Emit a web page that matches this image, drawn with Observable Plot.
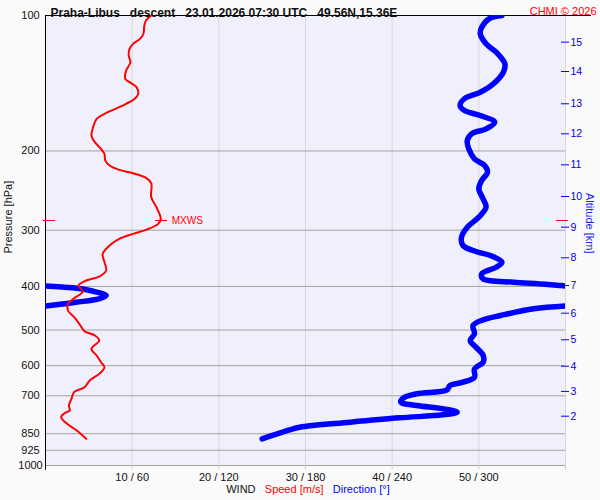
<!DOCTYPE html>
<html>
<head>
<meta charset="utf-8">
<script src="https://cdn.jsdelivr.net/npm/d3@7"></script>
<script src="https://cdn.jsdelivr.net/npm/@observablehq/plot@0.6"></script>
<style>
  html, body { margin: 0; padding: 0; background: #fafafa; }
</style>
</head>
<body>
<div id="chart"></div>
<script>
// ---- data ----
const speedPressure = [100, 102.6, 105.3, 109.8, 112.7, 115.6, 118.6, 122.7, 127, 132.6, 138.3, 140.6, 144.3, 149.3, 153.1, 157.1, 162, 165.4, 169.7, 177, 184.8, 191.2, 197.8, 203, 210.1, 215.4, 220.3, 224.1, 229.5, 235.9, 253.4, 266.7, 283.1, 290.4, 299.5, 305.7, 313.6, 324.4, 338.6, 353.3, 368.6, 380.2, 388, 398.1, 410, 426.4, 437.3, 452.4, 468.2, 484.4, 503, 514.1, 527.5, 550.6, 569.6, 589.4, 604.6, 625.7, 647.4, 669.9, 687.2, 710.9, 735.6, 754.6, 765.2, 781, 810.9, 833.1, 872.3];
const speedValues   = [12.2, 11.6, 11.4, 11.3, 10.9, 10.1, 9.7, 9.6, 9.8, 9.3, 9.2, 9.7, 10.5, 10.7, 10.3, 9.3, 7.8, 6.8, 5.9, 5.5, 5.3, 5.7, 6.4, 6.8, 6.9, 7.4, 8.5, 10.1, 11.6, 12.2, 12.2, 12.8, 13.3, 13.0, 11.6, 10.1, 8.5, 7.4, 6.6, 6.8, 7.0, 6.2, 4.7, 3.8, 4.3, 3.2, 2.6, 2.6, 3.3, 3.9, 4.5, 5.7, 6.2, 5.3, 5.9, 6.4, 6.8, 6.2, 5.1, 4.5, 3.3, 3.0, 2.7, 2.8, 2.2, 1.8, 2.6, 3.5, 4.7];

const dirPressure = [100, 101.7, 106.2, 109.8, 115.6, 120.6, 128, 133.7, 141.9, 148.1, 153.1, 158.5, 162.6, 166.8, 172.6, 178.6, 183.2, 189.6, 197.8, 208.2, 215.4, 222.9, 232.6, 242.8, 255.6, 266.7, 280.6, 295.4, 311, 324.4, 334.5, 341.5, 353.3, 362.6, 375, 384.8, 391.4, 394.8, 398.1, 399, 399, 402.9, 410, 419.2, 426.4, 433.8, 441.2, 442, 442, 448.5, 464.2, 474.6, 488.6, 509.6, 527.5, 545.8, 569.6, 589.4, 609.9, 636.5, 653, 664.3, 679.2, 692.9, 707.1, 723.2, 735.6, 748.2, 761.3, 771.7, 783.5, 801.2, 822, 833.1, 872.3];
const dirValues   = [316, 307, 302, 301, 305, 312, 318, 317, 310, 301, 290, 287, 290, 301, 311, 305, 295, 292, 293, 297, 304, 306, 302, 300, 303, 305, 300, 292, 288, 289, 298, 308, 316, 312, 302, 303, 324, 342, 356, 360, 0, 19, 33, 42, 37, 21, 3, 0, 360, 338, 315, 303, 296, 297, 294, 298, 303, 303, 297, 297, 289, 280, 278, 257, 248, 246, 257, 275, 285, 275, 245, 211, 176, 169, 150];

const pressureTicks = [100, 200, 300, 400, 500, 600, 700, 850, 925, 1000];
const gridPressures = [200, 300, 400, 500, 600, 700, 850, 925, 1000];
const speedTicks = [10, 20, 30, 40, 50];
const dirTicks = [60, 120, 180, 240, 300];
const altitudeKm = [2, 3, 4, 5, 6, 7, 8, 9, 10, 11, 12, 13, 14, 15];
const altitudePressure = [777, 684.5, 601.6, 525.6, 458.7, 398.1, 345.5, 295.4, 252.5, 214.7, 183.2, 157.1, 133.2, 114.6];
const mxwsPressure = 285.5;
const mxwsSpeed = 13.3;

const titleText = "Praha-Libus\u00a0\u00a0\u00a0descent\u00a0\u00a0\u00a023.01.2026 07:30 UTC\u00a0\u00a0\u00a049.56N,15.36E";
const creditText = "CHMI \u00a9 2026";

// ---- tables built from the arrays ----
const speedRows = speedPressure.map((p, i) => ({p, v: speedValues[i]}));
let seg = 0;
const dirRows = dirPressure.map((p, i) => {
  if (i > 0 && Math.abs(dirValues[i] - dirValues[i - 1]) > 180) seg++;
  return {p, v: dirValues[i] / 6, seg};
});
const xLabel = new Map(speedTicks.map((s, i) => [s, `${s} / ${dirTicks[i]}`]));
const altLabel = new Map(altitudePressure.map((p, i) => [p, String(altitudeKm[i])]));

const BLUE = "#0000ff";
const RED = "#ff0000";

const chart = Plot.plot({
  width: 600,
  height: 500,
  marginLeft: 45,
  marginRight: 35,
  marginTop: 15,
  marginBottom: 35,
  style: {
    fontFamily: "'Liberation Sans', Arial, sans-serif",
    fontSize: "11px",
    background: "#fafafa",
    color: "#111",
    overflow: "visible"
  },
  x: {domain: [0, 60]},
  y: {type: "log", domain: [100, 1000], reverse: true},
  marks: [
    Plot.frame({fill: "#f0f0fc", stroke: null}),
    Plot.ruleX([...speedTicks, 60], {stroke: "#d8d8d8"}),
    Plot.ruleY(gridPressures, {stroke: "#a3a3a3"}),
    Plot.ruleY([100], {stroke: "#000"}),
    Plot.ruleY([100], {x1: 60, x2: 63, stroke: "#000"}),
    Plot.ruleX([0], {y1: 100, y2: 1025, stroke: "#000"}),

    // bottom axis
    Plot.axisX([...speedTicks, 60], {
      tickSize: 4, tickPadding: 4, stroke: "#c8c8c8", fill: "#111",
      tickFormat: d => xLabel.get(d) ?? "", label: null, fontSize: 11
    }),
    // left axis labels
    Plot.text(pressureTicks, {y: d => d, text: d => String(d), frameAnchor: "left", dx: -15, textAnchor: "middle", fill: "#111", fontSize: 11}),
    // right altitude axis
    Plot.axisY(altitudePressure, {anchor: "right", tickSize: 8, dx: -5, stroke: BLUE, tickFormat: () => "", label: null}),
    Plot.text(altitudePressure, {y: d => d, text: d => altLabel.get(d), frameAnchor: "right", dx: 5, textAnchor: "start", fill: "#0000dd", fontSize: 10.5}),

    // MXWS markers
    Plot.axisY([mxwsPressure], {anchor: "left", tickSize: 12, dx: 10, stroke: RED, tickFormat: () => "", label: null}),
    Plot.axisY([mxwsPressure], {anchor: "right", tickSize: 12, dx: -10, stroke: RED, tickFormat: () => "", label: null}),
    Plot.ruleY([mxwsPressure], {x1: mxwsSpeed - 0.6, x2: mxwsSpeed + 0.8, stroke: RED}),
    Plot.text(["MXWS"], {x: mxwsSpeed, y: mxwsPressure, dx: 11, textAnchor: "start", fill: RED, fontSize: 10}),

    // data lines
    Plot.line(dirRows, {x: "v", y: "p", z: "seg", stroke: BLUE, strokeWidth: 5.5, curve: "catmull-rom", clip: true}),
    Plot.line(speedRows, {x: "v", y: "p", stroke: RED, strokeWidth: 2, curve: "catmull-rom", clip: true}),

    // titles and labels
    Plot.text([titleText], {frameAnchor: "top-left", dx: 5, dy: -7, textAnchor: "start", fontWeight: "bold", fontSize: 12, fill: "#111"}),
    Plot.text([creditText], {frameAnchor: "top-right", dx: 31, dy: -8, textAnchor: "end", fontSize: 11, fill: RED}),
    Plot.text(["Pressure [hPa]"], {frameAnchor: "left", dx: -37.5, dy: 13, rotate: -90, fontSize: 11, fill: "#111"}),
    Plot.text(["Altitude [km]"], {frameAnchor: "right", dx: 24, dy: 13, rotate: 90, fontSize: 11, fill: "#2020ff"}),
    Plot.text(["WIND"], {frameAnchor: "bottom-left", dx: 180.7, dy: 27.5, textAnchor: "start", fontSize: 11, fill: "#111"}),
    Plot.text(["Speed [m/s]"], {frameAnchor: "bottom-left", dx: 219.3, dy: 27.5, textAnchor: "start", fontSize: 11, fill: RED}),
    Plot.text(["Direction [\u00b0]"], {frameAnchor: "bottom-left", dx: 287.3, dy: 27.5, textAnchor: "start", fontSize: 11, fill: BLUE})
  ]
});

document.getElementById("chart").append(chart);
</script>
</body>
</html>
